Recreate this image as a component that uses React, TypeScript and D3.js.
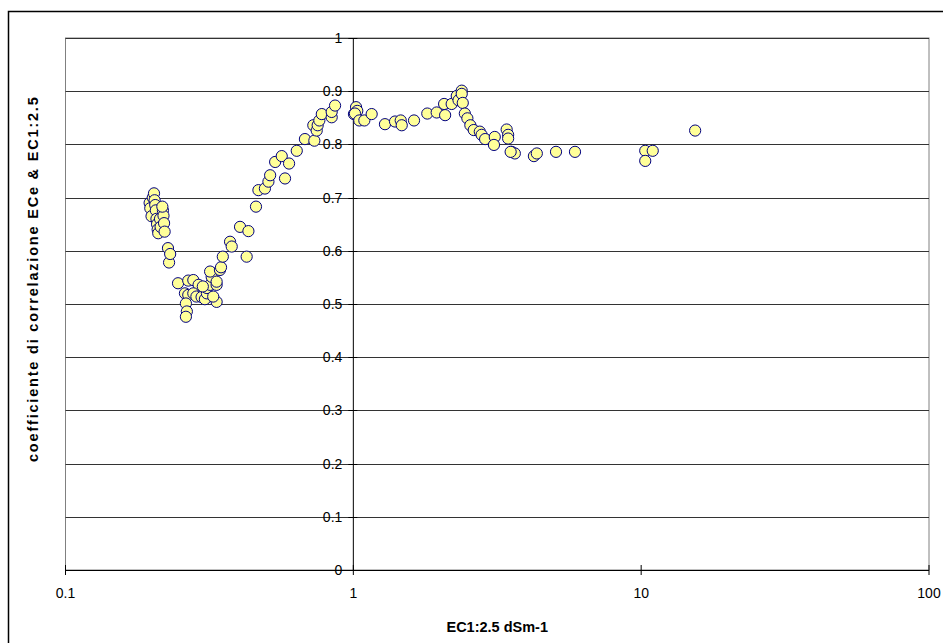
import React from 'react';
import * as d3 from 'd3';

// EC1:2.5 (dS/m) values
const ecValues: number[] = [
  0.196, 0.197, 0.199, 0.201, 0.203, 0.204, 0.205, 0.206, 0.207, 0.208, 0.209, 0.210, 0.213, 0.214, 0.218, 0.219, 0.220, 0.221, 0.217,
  0.227, 0.229, 0.231, 0.246,
  0.267, 0.278, 0.290, 0.260, 0.267, 0.262, 0.264, 0.262, 0.278, 0.285, 0.297, 0.305, 0.310, 0.310, 0.318, 0.322, 0.318, 0.335, 0.335, 0.326, 0.344, 0.300, 0.335, 0.347, 0.352,
  0.373, 0.378, 0.404, 0.432, 0.426, 0.459, 0.468, 0.493, 0.507, 0.514, 0.535, 0.564, 0.579, 0.598, 0.636, 0.679, 0.732, 0.726, 0.746, 0.752, 0.762, 0.777, 0.841, 0.841, 0.864,
  1.005, 1.022, 1.032, 1.013, 1.049, 1.092, 1.158, 1.288, 1.396, 1.461, 1.473, 1.625, 1.807, 1.948, 2.067, 2.084, 2.196, 2.287, 2.32, 2.38, 2.38, 2.40, 2.44, 2.49, 2.55, 2.62, 2.75, 2.79, 2.87, 3.10, 3.08, 3.41, 3.45, 3.45, 3.55, 3.64, 3.52,
  4.24, 4.34, 5.06, 5.89, 10.33, 10.97, 10.33, 15.4,
];

// correlation coefficient ECe & EC1:2.5
const corrValues: number[] = [
  0.690, 0.680, 0.665, 0.700, 0.708, 0.695, 0.686, 0.676, 0.660, 0.650, 0.640, 0.633, 0.660, 0.645, 0.676, 0.666, 0.652, 0.636, 0.683,
  0.605, 0.578, 0.594, 0.539,
  0.544, 0.545, 0.536, 0.520, 0.517, 0.501, 0.486, 0.476, 0.520, 0.514, 0.513, 0.509, 0.520, 0.530, 0.536, 0.551, 0.561, 0.536, 0.504, 0.514, 0.564, 0.533, 0.542, 0.569, 0.589,
  0.617, 0.608, 0.645, 0.637, 0.589, 0.683, 0.714, 0.717, 0.730, 0.742, 0.767, 0.778, 0.736, 0.764, 0.788, 0.810, 0.807, 0.836, 0.826, 0.836, 0.845, 0.857, 0.851, 0.861, 0.873,
  0.857, 0.870, 0.863, 0.858, 0.845, 0.845, 0.857, 0.838, 0.843, 0.845, 0.836, 0.845, 0.858, 0.860, 0.876, 0.855, 0.876, 0.891, 0.883, 0.901, 0.895, 0.878, 0.858, 0.849, 0.836, 0.827, 0.824, 0.818, 0.810, 0.814, 0.799, 0.828, 0.818, 0.811, 0.786, 0.783, 0.786,
  0.778, 0.783, 0.786, 0.786, 0.788, 0.788, 0.769, 0.826,
];

const xTicks: number[] = [0.1, 1, 10, 100];
const xTickLabels: string[] = ['0.1', '1', '10', '100'];
const yTicks: number[] = [0, 0.1, 0.2, 0.3, 0.4, 0.5, 0.6, 0.7, 0.8, 0.9, 1];
const yTickLabels: string[] = ['0', '0.1', '0.2', '0.3', '0.4', '0.5', '0.6', '0.7', '0.8', '0.9', '1'];

const xTitle = 'EC1:2.5 dSm-1';
const yTitle = 'coefficiente di correlazione  ECe & EC1:2.5';

const FONT = '"Liberation Sans", Arial, Helvetica, sans-serif';

export default function App() {
  React.useEffect(() => {
    document.body.style.margin = '0';
  }, []);

  const W = 943;
  const H = 643;
  const left = 65.5;
  const right = 929;
  const top = 38;
  const bottom = 570;

  const x = d3.scaleLog().domain([0.1, 100]).range([left, right]);
  const y = d3.scaleLinear().domain([0, 1]).range([bottom, top]);
  const x0 = x(1);

  const points = ecValues.map((v, i) => ({ ec: v, r: corrValues[i] }));

  return (
    <svg width={W} height={H} style={{ display: 'block', background: '#fff' }} fontFamily={FONT}>
      <defs>
        <clipPath id="ytitleclip">
          <rect x={0} y={97} width={60} height={500} />
        </clipPath>
      </defs>
      {/* chart area border */}
      <rect x={8.5} y={11.5} width={W + 20} height={H + 20} fill="#fff" stroke="#000" strokeWidth={1.5} />
      {/* plot area */}
      <rect x={left} y={top} width={right - left} height={bottom - top} fill="#fff" stroke="#808080" strokeWidth={1} />
      {/* gridlines */}
      {yTicks.filter((t) => t > 0).map((t) => (
        <line key={'g' + t} x1={left} x2={right} y1={Math.round(y(t)) + 0.5} y2={Math.round(y(t)) + 0.5} stroke="#333" strokeWidth={1.2} />
      ))}
      {/* y axis at x=1 */}
      <line x1={x0} x2={x0} y1={top} y2={bottom} stroke="#000" strokeWidth={1} />
      {yTicks.map((t, i) => (
        <g key={'yt' + t}>
          <line x1={x0 - 5} x2={x0 + 4} y1={Math.round(y(t)) + 0.5} y2={Math.round(y(t)) + 0.5} stroke="#000" strokeWidth={1} />
          <text x={x0 - 11} y={y(t)} dy="0.35em" textAnchor="end" fontSize={14} fill="#000">
            {yTickLabels[i]}
          </text>
        </g>
      ))}
      {/* x axis at y=0 */}
      <line x1={left} x2={right} y1={Math.round(bottom) + 0.5} y2={Math.round(bottom) + 0.5} stroke="#000" strokeWidth={1} />
      {xTicks.map((t, i) => (
        <g key={'xt' + t}>
          <line x1={x(t)} x2={x(t)} y1={bottom - 5} y2={bottom + 5} stroke="#000" strokeWidth={1} />
          <text x={x(t)} y={598} textAnchor="middle" fontSize={14} fill="#000">
            {xTickLabels[i]}
          </text>
        </g>
      ))}
      {/* points */}
      {points.map((p, i) => (
        <circle key={'p' + i} cx={x(p.ec)} cy={y(p.r)} r={5.6} fill="#FFFF99" stroke="#000080" strokeWidth={1} />
      ))}
      {/* titles */}
      <text x={(left + right) / 2} y={632} textAnchor="middle" fontSize={14.5} fontWeight="bold" fill="#000">
        {xTitle}
      </text>
      <g clipPath="url(#ytitleclip)">
        <text transform="translate(38,462) rotate(-90)" textAnchor="start" fontSize={14.5} fontWeight="bold" letterSpacing={1.8} fill="#000">
          {yTitle}
        </text>
      </g>
    </svg>
  );
}
